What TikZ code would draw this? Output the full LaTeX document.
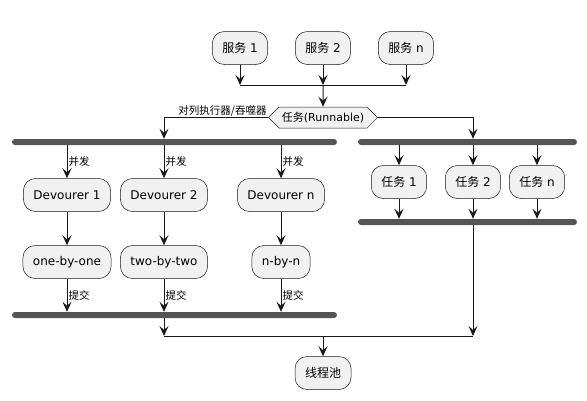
\documentclass[tikz,border=0pt]{standalone}
\usepackage{fontspec}
\setmainfont{DejaVu Sans}
\newfontfamily\cjk{Noto Sans CJK SC}
\usetikzlibrary{arrows.meta,shapes.symbols}

\definecolor{actfill}{HTML}{F1F1F1}
\definecolor{ink}{HTML}{181818}
\definecolor{barfill}{HTML}{555555}

\newcommand{\zh}[1]{{\cjk #1}}

\tikzset{
  act/.style={draw=ink, fill=actfill, line width=0.5pt, rounded corners=12pt,
    minimum height=33pt, inner xsep=10pt, font=\fontsize{12}{14}\selectfont},
  choice/.style={draw=ink, fill=actfill, line width=0.5pt, signal,
    signal to=east and west, minimum height=21pt, inner xsep=3pt, inner ysep=2pt,
    font=\fontsize{11}{13}\selectfont},
  bar/.style={fill=barfill, rounded corners=3pt, minimum height=6pt, inner sep=0pt},
  link/.style={draw=ink, line width=1pt},
  flow/.style={link, -{Stealth[length=10pt,width=9pt,inset=4pt]}},
  tag/.style={font=\fontsize{10.5}{12}\selectfont, inner sep=1pt}
}

\begin{document}
\begin{tikzpicture}[x=1pt,y=-1pt]
\useasboundingbox (0,0) rectangle (587,400);

% services
\coordinate (svcjoin) at (323,85);
\foreach \x/\i in {240/1, 323/2, 406/n}
  {
    \node[act] (svc\i) at (\x,48) {\zh{服务} \i};
    \draw[flow] (svc\i) -- (svc\i |- svcjoin);
  }
\draw[link] (svc1 |- svcjoin) -- (svcn |- svcjoin);

% choice
\node[choice] (dispatch) at (323,117.5) {\zh{任务}(Runnable)};
\draw[flow] (svcjoin) -- (dispatch);

% bars
\node[bar, minimum width=325pt] (lfork) at (174.5,142) {};
\node[bar, minimum width=325pt] (ljoin) at (174.5,315) {};
\node[bar, minimum width=219pt] (rfork) at (467.5,142) {};
\node[bar, minimum width=219pt] (rjoin) at (467.5,222) {};

% devourers
\foreach \x/\i/\r in {67/1/one-by-one, 164/2/two-by-two, 281/n/n-by-n}
  {
    \node[act] (dev\i) at (\x,195) {Devourer \i};
    \node[act] (res\i) at (\x,262) {\r};
    \draw[flow] (dev\i |- lfork.south) -- node[tag, right] {\zh{并发}} (dev\i);
    \draw[flow] (dev\i) -- (res\i);
    \draw[flow] (res\i) -- node[tag, right] {\zh{提交}} (res\i |- ljoin.north);
  }

% tasks
\foreach \x/\i in {399/1, 473/2, 537/n}
  {
    \node[act] (task\i) at (\x,182) {\zh{任务} \i};
    \draw[flow] (task\i |- rfork.south) -- (task\i);
    \draw[flow] (task\i) -- (task\i |- rjoin.north);
  }

% branches
\draw[flow] (dispatch.west) -| node[at start, tag, anchor=south east] {\zh{对列执行器/吞噬器}}
  (dev2 |- lfork.north);
\draw[flow] (dispatch.east) -| (task2 |- rfork.north);

% merge
\coordinate (merge) at (323,336);
\node[act] (pool) at (323,373) {\zh{线程池}};
\draw[flow] (dev2 |- ljoin.south) -- (dev2 |- merge);
\draw[flow] (task2 |- rjoin.south) -- (task2 |- merge);
\draw[link] (dev2 |- merge) -- (task2 |- merge);
\draw[flow] (merge) -- (pool);
\end{tikzpicture}
\end{document}
